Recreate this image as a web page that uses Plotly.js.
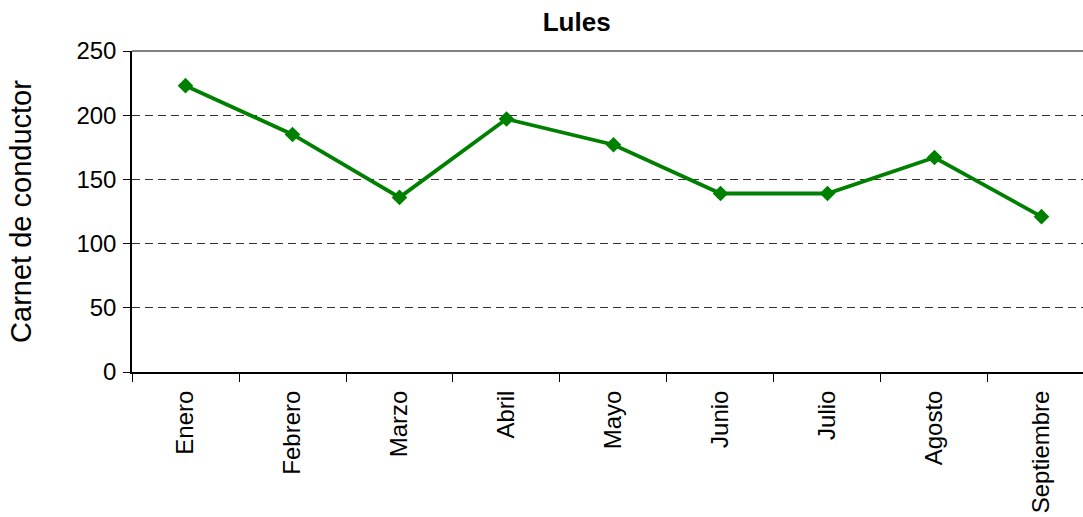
<!DOCTYPE html>
<html>
<head>
<meta charset="utf-8">
<script src="https://cdn.plot.ly/plotly-3.0.1.min.js"></script>
<style>html,body{margin:0;padding:0;background:#fff;}#chart{width:1083px;height:517px;}</style>
</head>
<body>
<div id="chart"></div>
<script>
const months = ["Enero", "Febrero", "Marzo", "Abril", "Mayo", "Junio", "Julio", "Agosto", "Septiembre"];
const carnet = [223, 185, 136, 197, 177, 139, 139, 167, 121];
const yTicks = [0, 50, 100, 150, 200, 250];
const chartTitle = "Lules";
const yTitle = "Carnet de conductor";

const font = "Arial, 'Liberation Sans', sans-serif";

const trace = {
  x: months,
  y: carnet,
  type: "scatter",
  mode: "lines+markers",
  line: {color: "#008000", width: 3.8},
  marker: {symbol: "diamond", size: 12, color: "#008000"},
  hoverinfo: "x+y"
};

const layout = {
  width: 1083,
  height: 517,
  margin: {l: 132, r: 0, t: 51, b: 145},
  paper_bgcolor: "#fff",
  plot_bgcolor: "#fff",
  showlegend: false,
  title: {
    text: "<b>" + chartTitle + "</b>",
    font: {family: font, size: 26, color: "#000"},
    x: 0.5325, xanchor: "center",
    y: 0.957, yanchor: "middle"
  },
  xaxis: {
    type: "category",
    range: [-0.5, 8.388],
    showgrid: false,
    showline: true,
    linecolor: "#000",
    linewidth: 2,
    ticks: "outside",
    tickson: "boundaries",
    ticklen: 8,
    tickcolor: "#000",
    tickwidth: 1.3,
    tickangle: -90,
    ticklabelstandoff: 7,
    tickfont: {family: font, size: 24, color: "#000"},
    zeroline: false,
    automargin: false,
    fixedrange: true
  },
  yaxis: {
    range: [0, 250],
    tickvals: yTicks,
    ticktext: yTicks.map(String),
    showgrid: true,
    gridcolor: "#333",
    gridwidth: 1,
    griddash: "8px,5px",
    showline: true,
    linecolor: "#000",
    linewidth: 1.5,
    ticks: "outside",
    ticklen: 7,
    tickcolor: "#000",
    tickwidth: 1.3,
    ticklabelstandoff: 2,
    tickfont: {family: font, size: 24, color: "#000"},
    zeroline: false,
    automargin: false,
    title: {
      text: yTitle,
      font: {family: font, size: 29, color: "#000"},
      standoff: 36
    },
    fixedrange: true
  },
  shapes: [{
    type: "line",
    xref: "paper", yref: "paper",
    x0: 0, x1: 1, y0: 1, y1: 1,
    line: {color: "#808080", width: 2}
  }]
};

Plotly.newPlot("chart", [trace], layout, {displayModeBar: false, staticPlot: false});
</script>
</body>
</html>
